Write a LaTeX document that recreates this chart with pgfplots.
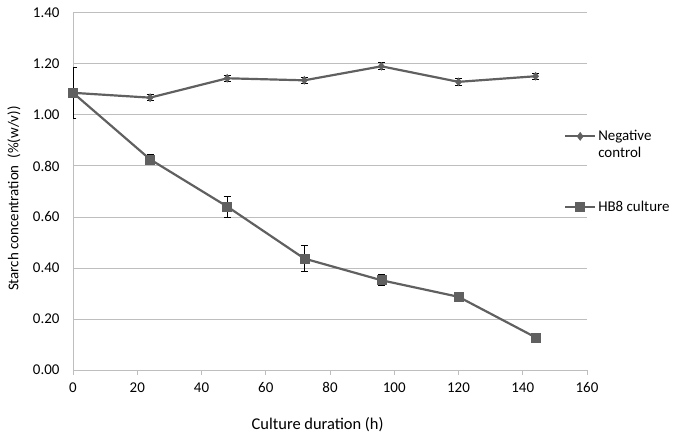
\documentclass[border=0pt]{standalone}
\usepackage{pgfplots}
\pgfplotsset{compat=1.18}
\usepackage{fontspec}
\setmainfont{Carlito}

\definecolor{serie}{HTML}{606060}
\definecolor{grille}{HTML}{BEBEBE}

\pgfplotstableread{
t    y      e
0    1.087  0.100
24   1.068  0.012
48   1.144  0.013
72   1.136  0.012
96   1.191  0.014
120  1.130  0.012
144  1.152  0.013
}\negctrl

\pgfplotstableread{
t    y      e
0    1.087  0.000
24   0.826  0.020
48   0.641  0.041
72   0.437  0.050
96   0.352  0.021
120  0.287  0.008
144  0.128  0.012
}\hbeight

\begin{document}
\begin{tikzpicture}
\path[use as bounding box] (0,0) rectangle (680bp,436bp);
\begin{axis}[
    at={(73bp,66bp)}, anchor=south west,
    scale only axis, width=514bp, height=357bp,
    xmin=0, xmax=160, ymin=0, ymax=1.4,
    xtick={0,20,...,160}, ytick={0,0.2,...,1.4},
    axis x line=bottom, axis y line=left,
    axis line style={-, grille, line width=1pt},
    x tick style={grille, line width=1pt},
    tick align=outside, major tick length=5bp,
    y tick style={draw=none},
    ymajorgrids, major grid style={grille, line width=1pt},
    font=\fontsize{15}{17}\selectfont,
    /pgf/number format/assume math mode=true,
    yticklabel style={xshift=-5bp, /pgf/number format/.cd, fixed, fixed zerofill, precision=2},
    xticklabel style={yshift=-4bp, /pgf/number format/.cd, fixed, precision=0},
    xlabel={Culture duration (h)},
    ylabel={Starch concentration \ (\%(w/v))},
    every axis x label/.style={at={(axis description cs:0.476,-0.154)}, anchor=center,
        font=\fontsize{16.5}{19}\selectfont},
    every axis y label/.style={at={(axis description cs:-0.115,0.48)}, rotate=90, anchor=center},
    legend style={at={(axis description cs:0.955,0.677)}, anchor=north west,
        draw=none, fill=none, inner sep=0pt, row sep=38bp,
        nodes={align=left, inner sep=2bp}},
    legend cell align=left,
    legend image code/.code={\draw[mark repeat=2, mark phase=2, #1] plot coordinates {(0bp,0bp) (15bp,0bp) (30bp,0bp)};},
]
\addplot[serie, line width=2.2pt, mark=diamond*, mark size=4bp,
    mark options={solid, fill=serie, line width=0.5pt},
    legend image post style={yshift=8.5bp},
    error bars/.cd, y dir=both, y explicit,
    error bar style={black, line width=0.8pt},
    error mark options={rotate=90, mark size=3.5bp, black, line width=0.8pt}]
    table[x=t, y=y, y error=e] {\negctrl};
\addlegendentry{Negative\\control}
\addplot[serie, line width=2.2pt, mark=square*, mark size=4.5bp,
    mark options={solid, fill=serie, line width=0.5pt},
    error bars/.cd, y dir=both, y explicit,
    error bar style={black, line width=0.8pt},
    error mark options={rotate=90, mark size=3.5bp, black, line width=0.8pt}]
    table[x=t, y=y, y error=e] {\hbeight};
\addlegendentry{HB8 culture}
\end{axis}
\end{tikzpicture}
\end{document}
